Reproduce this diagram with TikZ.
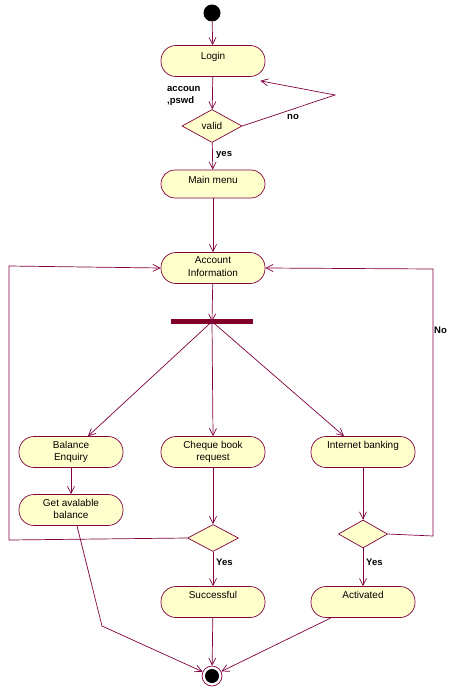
\documentclass[tikz,border=0pt]{standalone}
\usepackage{fontspec}
\setmainfont{Liberation Sans}
\usetikzlibrary{arrows.meta,shapes.geometric}
\definecolor{lnc}{RGB}{128,0,64}
\definecolor{fl}{RGB}{255,255,204}
\definecolor{barc}{RGB}{128,0,40}
\tikzset{
  act/.style={draw=lnc,line width=0.7pt,fill=fl,rectangle,rounded corners=15pt,minimum width=104pt,minimum height=31pt,inner sep=0pt},
  dec/.style 2 args={draw=lnc,line width=0.7pt,fill=fl,diamond,inner sep=0pt,minimum width=#1,minimum height=#2},
  txt/.style={font=\fontsize{10}{12.8}\selectfont,align=center,anchor=north,inner sep=0pt},
  lbl/.style={font=\fontsize{9.5}{11}\selectfont\bfseries,inner sep=0pt},
  arr/.style={draw=lnc,line width=0.7pt,-{Straight Barb[length=7pt,width=7pt]}}
}
\begin{document}
\begin{tikzpicture}[x=1pt,y=-1pt]
\useasboundingbox (0,0) rectangle (456,695);
% start
\node[circle,fill=black,minimum size=17pt,inner sep=0pt] (start) at (212,13) {};
% activities
\node[act] (login) at (213,61) {};
\node[txt] at ([yshift=-7pt]login.north) {Login};
\node[dec={60pt}{33pt}] (valid) at (212,126) {};
\node[font=\fontsize{10}{11}\selectfont] at (212,126) {valid};
\node[act,minimum height=28pt,rounded corners=14pt] (main) at (213,184) {};
\node[txt] at ([yshift=-6pt]main.north) {Main menu};
\node[act] (acc) at (213,268) {};
\node[txt] at ([yshift=-4.5pt]acc.north) {Account\\Information};
\node[fill=barc,minimum width=82pt,minimum height=5pt,inner sep=0pt] (bar) at (212,321.5) {};
\node[act] (be) at (71,452) {};
\node[txt] at ([yshift=-4.5pt]be.north) {Balance\\Enquiry};
\node[act] (ch) at (213,452) {};
\node[txt] at ([yshift=-4.5pt]ch.north) {Cheque book\\request};
\node[act] (ib) at (363,452) {};
\node[txt] at ([yshift=-4.5pt]ib.north) {Internet banking};
\node[act] (gb) at (71,510) {};
\node[txt] at ([yshift=-4.5pt]gb.north) {Get avalable\\balance};
\node[dec={51pt}{27pt}] (d1) at (213,538) {};
\node[dec={49pt}{28pt}] (d2) at (363,534) {};
\node[act] (succ) at (213,602) {};
\node[txt] at ([yshift=-4.5pt]succ.north) {Successful};
\node[act] (actv) at (363,602) {};
\node[txt] at ([yshift=-4.5pt]actv.north) {Activated};
% end
\node[circle,draw=lnc,line width=0.7pt,fill=white,minimum size=20pt,inner sep=0pt] (end) at (212,676) {};
\node[circle,fill=black,minimum size=14pt,inner sep=0pt] at (end) {};
% labels
\node[lbl,anchor=west] at (167,89) {accoun};
\node[lbl,anchor=west] at (167,101) {,pswd};
\node[lbl,anchor=west] at (287,117) {no};
\node[lbl,anchor=west] at (216,155) {yes};
\node[lbl,anchor=west] at (434,330) {No};
\node[lbl,anchor=west] at (216,562) {Yes};
\node[lbl,anchor=west] at (366,562) {Yes};
% coordinates
\coordinate (c1) at (335,95);
\coordinate (c2) at (9,540);
\coordinate (c3) at (9,266);
\coordinate (c4) at (433,536);
\coordinate (c5) at (433,269);
\coordinate (c6) at (102,626);
% connectors
\draw[arr] (start) -- (login);
\draw[arr] (login) -- (valid);
\draw[arr] (valid.east) -- (c1) -- ([xshift=-5pt,yshift=-4pt]login.south east);
\draw[arr] (valid) -- (main);
\draw[arr] (main) -- (acc);
\draw[arr] (acc) -- (bar.center);
\draw[arr] (bar.center) -- ([xshift=17pt]be.north);
\draw[arr] (bar.center) -- (ch.north);
\draw[arr] (bar.center) -- ([xshift=-19pt]ib.north);
\draw[arr] (be) -- (gb);
\draw[arr] (ch) -- (d1);
\draw[arr] (ib) -- (d2);
\draw[arr] (d1.west) -- (c2) -- (c3) -- (acc.west);
\draw[arr] (d2.east) -- (c4) -- (c5) -- (acc.east);
\draw[arr] (d1) -- (succ);
\draw[arr] (d2) -- (actv);
\draw[arr] ([xshift=6pt]gb.south) -- (c6) -- (end);
\draw[arr] (succ) -- (end);
\draw[arr] ([xshift=-32pt]actv.south) -- (end);
\end{tikzpicture}
\end{document}
